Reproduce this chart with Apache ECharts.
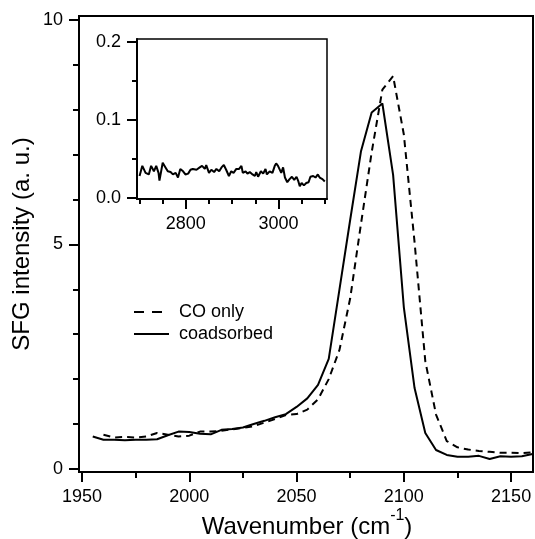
<!DOCTYPE html>
<html>
<head>
<meta charset="utf-8">
<title>SFG spectrum</title>
<script src="https://cdn.jsdelivr.net/npm/echarts@6/dist/echarts.min.js"></script>
<style>html,body{margin:0;padding:0;background:#fff}</style>
</head>
<body>
<div id="res" style="width:535px;height:539px;"></div>
<script>
// main plot: CO only (dashed) and coadsorbed (solid)
var coX = [1960,1965,1970,1975,1980,1985,1990,1995,2000,2005,2010,2015,2020,2025,2030,2035,2040,2045,2050,2055,2060,2065,2070,2075,2080,2085,2090,2095,2100,2105,2110,2115,2120,2125,2130,2135,2140,2145,2150,2155,2160];
var coY = [0.76,0.70,0.71,0.70,0.72,0.80,0.76,0.72,0.74,0.83,0.83,0.85,0.88,0.91,0.95,1.03,1.11,1.20,1.22,1.32,1.55,2.00,2.65,3.80,5.45,7.05,8.45,8.75,7.45,5.05,2.40,1.21,0.62,0.48,0.43,0.40,0.38,0.36,0.36,0.35,0.37];
var coadX = [1955,1960,1965,1970,1975,1980,1985,1990,1995,2000,2005,2010,2015,2020,2025,2030,2035,2040,2045,2050,2055,2060,2065,2070,2075,2080,2085,2090,2095,2100,2105,2110,2115,2120,2125,2130,2135,2140,2145,2150,2155,2160];
var coadY = [0.72,0.65,0.65,0.64,0.65,0.65,0.66,0.75,0.83,0.82,0.78,0.77,0.87,0.89,0.92,1.00,1.07,1.15,1.22,1.38,1.57,1.87,2.45,4.00,5.55,7.07,7.94,8.14,6.55,3.60,1.80,0.80,0.42,0.31,0.27,0.27,0.29,0.22,0.28,0.27,0.28,0.33];

// inset: high wavenumber region
var insetX = [2700,2706,2713,2720,2725,2731,2736,2741,2743,2750,2756,2761,2767,2772,2778,2783,2788,2794,2799,2805,2810,2815,2823,2830,2835,2841,2844,2850,2855,2861,2866,2872,2877,2882,2887,2893,2898,2903,2909,2915,2920,2923,2929,2933,2938,2944,2949,2952,2956,2962,2967,2972,2975,2981,2987,2992,2995,2999,3003,3006,3010,3014,3019,3024,3029,3034,3039,3043,3046,3050,3055,3060,3065,3069,3075,3080,3085,3089,3095,3100];
var insetY = [0.028,0.041,0.032,0.030,0.041,0.034,0.041,0.032,0.022,0.045,0.039,0.034,0.033,0.030,0.032,0.026,0.037,0.034,0.030,0.031,0.036,0.037,0.036,0.039,0.041,0.037,0.042,0.032,0.036,0.033,0.037,0.034,0.039,0.042,0.036,0.028,0.034,0.032,0.037,0.037,0.041,0.032,0.034,0.031,0.033,0.030,0.028,0.033,0.027,0.034,0.031,0.037,0.030,0.034,0.032,0.041,0.044,0.041,0.042,0.032,0.039,0.026,0.020,0.024,0.027,0.023,0.027,0.021,0.015,0.019,0.016,0.019,0.020,0.027,0.028,0.026,0.030,0.026,0.024,0.021];

// ticks
var mainXMajor = [1950,2000,2050,2100,2150];
var mainXMinor = [1975,2025,2075,2125];
var mainYMajor = [0,5,10];
var mainYMinor = [1,2,3,4,6,7,8,9];
var insetXMajor = [2800,3000];
var insetXMinor = [2700,2750,2850,2900,2950,3050,3100];
var insetYMajor = [0,0.1,0.2];
var insetYMinor = [0.05,0.15];

function pairs(xs, ys) {
	var out = [];
	for (var i = 0; i < xs.length; i++) out.push([xs[i], ys[i]]);
	return out;
}

var font = 'Liberation Sans';

function axis(grid, pos, min, max, ticks, len, labels, fmt, showLine) {
	return {
		type: 'value', gridIndex: grid, position: pos, min: min, max: max,
		axisLine: {show: showLine, onZero: false, lineStyle: {color: '#000', width: 2}},
		axisTick: {show: true, inside: false, length: len, customValues: ticks, lineStyle: {color: '#000', width: 2}},
		axisLabel: labels ? {show: true, customValues: labels, margin: 16, color: '#000', fontSize: 18, fontFamily: font, formatter: fmt} : {show: false},
		splitLine: {show: false}
	};
}

var myChart = echarts.init(document.getElementById('res'));
var option = {
	animation: false,
	backgroundColor: '#fff',
	grid: [
		{left: 79, top: 16, right: 2, bottom: 67, show: true, borderColor: '#000', borderWidth: 2},
		{left: 137, top: 39, right: 208, bottom: 340, show: true, borderColor: '#000', borderWidth: 1.5, backgroundColor: '#fff'}
	],
	xAxis: [
		axis(0, 'bottom', 1948.6, 2160.2, mainXMajor, 10, mainXMajor, function (v) { return String(v); }, true),
		axis(0, 'bottom', 1948.6, 2160.2, mainXMinor, 6, null, null, false),
		axis(1, 'bottom', 2694.5, 3104.8, insetXMajor, 10, insetXMajor, function (v) { return String(v); }, true),
		axis(1, 'bottom', 2694.5, 3104.8, insetXMinor, 5, null, null, false)
	],
	yAxis: [
		axis(0, 'left', -0.07, 10.09, mainYMajor, 10, mainYMajor, function (v) { return String(v); }, true),
		axis(0, 'left', -0.07, 10.09, mainYMinor, 6, null, null, false),
		axis(1, 'left', -0.0015, 0.2035, insetYMajor, 10, insetYMajor, function (v) { return v.toFixed(1); }, true),
		axis(1, 'left', -0.0015, 0.2035, insetYMinor, 5, null, null, false)
	],
	legend: {
		data: [
			{name: 'CO only', lineStyle: {type: [10, 8]}},
			{name: 'coadsorbed'}
		],
		orient: 'vertical', left: 133, top: 303, padding: 0,
		itemWidth: 35, itemHeight: 14, itemGap: 4,
		itemStyle: {color: 'rgba(0,0,0,0)', borderWidth: 0, opacity: 0},
		textStyle: {color: '#000', fontSize: 18, fontFamily: font, padding: [0, 0, 0, 5]}
	},
	graphic: [
		{type: 'text', x: 22, y: 244, rotation: Math.PI / 2,
			style: {text: 'SFG intensity (a. u.)', fill: '#000', font: '24px "Liberation Sans"', align: 'center', verticalAlign: 'middle'}},
		{type: 'text', x: 307, y: 527,
			style: {text: 'Wavenumber (cm{sup|-1})', fill: '#000', font: '24px "Liberation Sans"', align: 'center', verticalAlign: 'middle',
				rich: {sup: {fontSize: 16, fontFamily: font, fill: '#000', padding: [0, 0, 22, 0]}}}}
	],
	series: [
		{name: 'CO only', type: 'line', xAxisIndex: 0, yAxisIndex: 0, data: pairs(coX, coY), showSymbol: false, symbol: 'none',
			lineStyle: {color: '#000', width: 2, type: [7, 5]}, itemStyle: {color: '#000'}},
		{name: 'coadsorbed', type: 'line', xAxisIndex: 0, yAxisIndex: 0, data: pairs(coadX, coadY), showSymbol: false, symbol: 'none',
			lineStyle: {color: '#000', width: 2}, itemStyle: {color: '#000'}},
		{name: 'high', type: 'line', xAxisIndex: 2, yAxisIndex: 2, data: pairs(insetX, insetY), showSymbol: false, symbol: 'none',
			lineStyle: {color: '#000', width: 2}, itemStyle: {color: '#000'}}
	]
};
myChart.setOption(option);
</script>
</body>
</html>
